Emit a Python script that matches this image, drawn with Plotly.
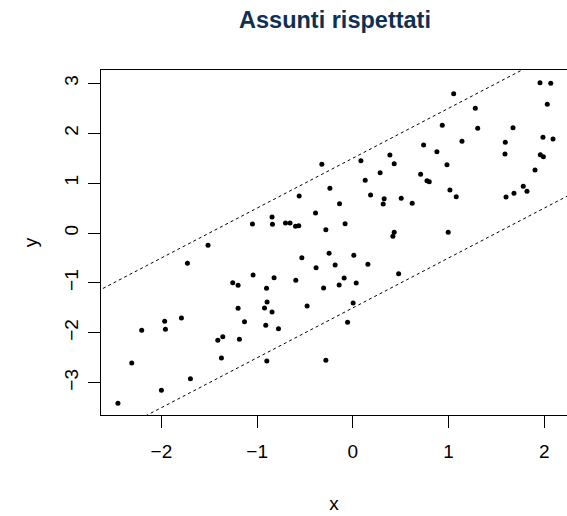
import plotly.graph_objects as go

# Simulated sample: predictor x and response y
x = [
    -0.324, 0.084, 0.387, 0.432, 0.129, 0.285, -0.240, -0.561, 0.185, 0.327,
    0.317, 0.505, -0.139, -0.390, -0.844, -1.049, -0.840, -0.704, -0.656, -0.599,
    -0.565, -0.282, -0.081, 0.432, 0.418,
    1.955, 2.067, 1.053, 2.031, 1.279, 0.934, 1.304, 1.673, 1.986, 2.091,
    1.140, 1.592, 0.739, 0.878, 1.589, 1.958, 1.990, 0.983, 1.903, 0.708,
    0.774, 0.798, 1.780, 1.014, 1.819, 1.683, 1.080, 1.600, 0.620, 0.996,
    -0.533, -0.248, 0.010, -0.384, -0.185, 0.157, 0.478, -1.042, -0.823, -0.596,
    -0.091, -0.143, 0.035, -0.306, -0.902, -0.896, -0.923, -0.844, -0.478, 0.003,
    -0.055, -0.910, -0.777, -0.899, -0.282,
    -1.513, -1.728, -1.255, -1.199, -1.199, -1.132, -1.966, -1.791, -2.206, -1.958,
    -1.411, -1.359, -1.185, -2.310, -1.373, -1.697, -2.000, -2.454,
]
y = [
    1.377, 1.449, 1.563, 1.389, 1.056, 1.208, 0.896, 0.741, 0.762, 0.687,
    0.581, 0.695, 0.587, 0.401, 0.321, 0.180, 0.174, 0.200, 0.200, 0.134,
    0.146, 0.066, 0.186, 0.014, -0.066,
    3.012, 3.000, 2.792, 2.579, 2.499, 2.158, 2.098, 2.110, 1.918, 1.884,
    1.838, 1.818, 1.764, 1.629, 1.583, 1.569, 1.529, 1.369, 1.263, 1.176,
    1.048, 1.028, 0.936, 0.862, 0.836, 0.796, 0.727, 0.721, 0.595, 0.014,
    -0.495, -0.407, -0.447, -0.695, -0.641, -0.627, -0.816, -0.842, -0.896, -0.948,
    -0.902, -1.042, -1.002, -1.102, -1.108, -1.383, -1.503, -1.583, -1.463, -1.403,
    -1.790, -1.850, -1.918, -2.565, -2.551,
    -0.246, -0.607, -0.996, -1.048, -1.509, -1.778, -1.770, -1.703, -1.950, -1.930,
    -2.150, -2.078, -2.130, -2.605, -2.505, -2.920, -3.152, -3.413,
]

# Reference line y = x with a band of +/- 1.5
line_slope = 1.0
band_intercepts = [1.5, -1.5]

x_ticks = [-2, -1, 0, 1, 2]
y_ticks = [-3, -2, -1, 0, 1, 2, 3]

FONT = "Liberation Sans, Arial, Helvetica, sans-serif"

fig = go.Figure()

line_x = [-3.0, 3.0]
for b in band_intercepts:
    fig.add_trace(go.Scatter(
        x=line_x, y=[b + line_slope * v for v in line_x],
        mode="lines",
        line=dict(color="black", width=1, dash="3px,3px"),
        hoverinfo="skip", showlegend=False,
    ))

fig.add_trace(go.Scatter(
    x=x, y=y, mode="markers",
    marker=dict(color="black", size=5),
    showlegend=False,
))

fig.update_layout(
    width=567, height=516,
    margin=dict(l=101, r=0, t=70, b=101),
    paper_bgcolor="white", plot_bgcolor="white",
    font=dict(family=FONT, color="black", size=19),
    title=dict(
        text="<b>Assunti rispettati</b>",
        font=dict(family=FONT, size=23.5, color="#103052"),
        x=335 / 567, xref="container", xanchor="center",
        y=1 - 20 / 516, yref="container", yanchor="middle",
    ),
)

fig.update_xaxes(
    range=[-2.631, 2.237],
    tickvals=x_ticks,
    ticks="outside", ticklen=12, tickwidth=1, tickcolor="black",
    ticklabelstandoff=7,
    showline=True, linecolor="black", linewidth=1, mirror=True,
    showgrid=False, zeroline=False,
    tickfont=dict(size=19),
    title=dict(text="x", font=dict(size=19), standoff=35),
)
fig.update_yaxes(
    range=[-3.647, 3.267],
    tickvals=y_ticks,
    tickangle=-90,
    ticks="outside", ticklen=12, tickwidth=1, tickcolor="black",
    ticklabelstandoff=2,
    showline=True, linecolor="black", linewidth=1, mirror=False,
    showgrid=False, zeroline=False,
    tickfont=dict(size=19),
    title=dict(text="y", font=dict(size=19), standoff=18),
)

fig.write_html("out.html")
